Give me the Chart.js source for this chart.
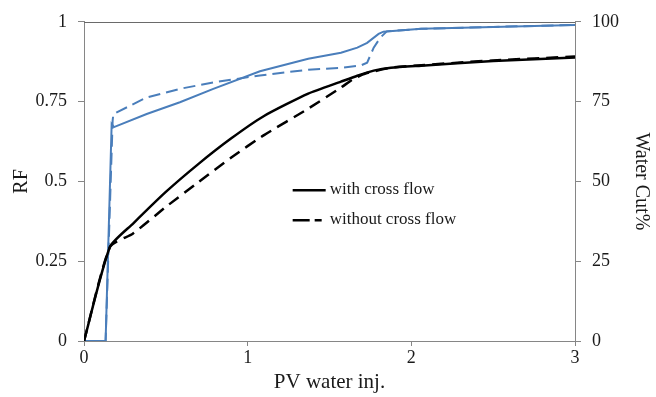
<!DOCTYPE html>
<html>
<head>
<meta charset="utf-8">
<script src="https://cdn.jsdelivr.net/npm/chart.js@4.4.1/dist/chart.umd.min.js"></script>
<style>
  html, body { margin: 0; padding: 0; background: #ffffff; }
  #wrap { width: 656px; height: 397px; position: relative; }
</style>
</head>
<body>
<div id="wrap"><canvas id="c" width="656" height="397"></canvas></div>
<script>
// ---- Data ----
const seriesLabels = ["with cross flow", "without cross flow"];

// RF, with cross flow (solid black)
const pvRFWith = [0, 0.159, 0.3, 0.5, 0.7, 0.9, 1.1, 1.37, 1.57, 1.67, 1.77, 1.875, 2.06, 2.5, 3.0];
const rfWith   = [0, 0.295, 0.368, 0.467, 0.555, 0.635, 0.705, 0.775, 0.8125, 0.831, 0.847, 0.856, 0.8625, 0.877, 0.888];

// RF, without cross flow (dashed black)
const pvRFWithout = [0, 0.159, 0.3, 0.5, 0.7, 0.9, 1.1, 1.37, 1.57, 1.65, 1.72, 1.875, 2.06, 2.5, 3.0];
const rfWithout   = [0, 0.295, 0.337, 0.42, 0.498, 0.575, 0.645, 0.728, 0.794, 0.822, 0.838, 0.856, 0.864, 0.879, 0.891];

// Water cut %, with cross flow (solid blue)
const pvWCWith = [0, 0.132, 0.169, 0.183, 0.383, 0.586, 0.79, 1.075, 1.37, 1.57, 1.67, 1.73, 1.80, 1.83, 2.06, 2.5, 3.0];
const wcWith   = [0, 0, 68, 67, 71.1, 74.8, 79, 84.5, 88.4, 90.3, 91.9, 93.4, 96.2, 96.9, 97.8, 98.4, 99];

// Water cut %, without cross flow (dashed blue)
const pvWCWithout = [0, 0.132, 0.175, 0.179, 0.383, 0.586, 0.79, 1.075, 1.37, 1.57, 1.69, 1.73, 1.77, 1.81, 1.85, 2.06, 2.5, 3.0];
const wcWithout   = [0, 0, 69, 71.1, 76.3, 79, 81, 83.2, 85, 85.6, 86.3, 87.2, 91.9, 95, 97, 97.8, 98.4, 99];

const xTicks  = [0, 1, 2, 3];
const rfTicks = [0, 0.25, 0.5, 0.75, 1];
const wcTicks = [0, 25, 50, 75, 100];

// ---- Styling ----
const BLUE = '#4a7ebb';
const BLACK = '#000000';
const AXIS = '#868686';
const TEXT = '#1a1a1a';
const SERIF = '"Liberation Serif", "Times New Roman", serif';

function pts(xs, ys) { return xs.map((x, i) => ({ x: x, y: ys[i] })); }
function plainLabel(v) { return String(v); }

const legendPlugin = {
  id: 'innerLegend',
  afterDatasetsDraw(chart) {
    const ctx = chart.ctx;
    const xs = chart.scales.x;
    const ys = chart.scales.y;
    const x0 = xs.getPixelForValue(1.275);
    const rows = [ys.getPixelForValue(0.472), ys.getPixelForValue(0.378)];
    ctx.save();
    ctx.strokeStyle = BLACK;
    ctx.lineWidth = 2.5;
    ctx.beginPath();
    ctx.setLineDash([]);
    ctx.moveTo(x0, rows[0]);
    ctx.lineTo(x0 + 33, rows[0]);
    ctx.stroke();
    ctx.beginPath();
    ctx.setLineDash([17, 5]);
    ctx.moveTo(x0, rows[1]);
    ctx.lineTo(x0 + 29, rows[1]);
    ctx.stroke();
    ctx.setLineDash([]);
    ctx.fillStyle = TEXT;
    ctx.font = '17px ' + SERIF;
    ctx.textAlign = 'left';
    ctx.textBaseline = 'middle';
    ctx.fillText(seriesLabels[0], x0 + 37, rows[0] - 1);
    ctx.fillText(seriesLabels[1], x0 + 37, rows[1] - 1);
    ctx.restore();
  }
};

const topBorderPlugin = {
  id: 'topBorder',
  afterDraw(chart) {
    const a = chart.chartArea;
    const ctx = chart.ctx;
    ctx.save();
    ctx.strokeStyle = '#6a6a6a';
    ctx.lineWidth = 1;
    ctx.beginPath();
    ctx.moveTo(a.left, Math.round(a.top) + 0.5);
    ctx.lineTo(a.right, Math.round(a.top) + 0.5);
    ctx.stroke();
    ctx.restore();
  }
};

const ctx = document.getElementById('c').getContext('2d');
new Chart(ctx, {
  type: 'line',
  data: {
    datasets: [
      {
        label: 'WC ' + seriesLabels[0], data: pts(pvWCWith, wcWith), yAxisID: 'y1',
        borderColor: BLUE, borderWidth: 2, pointRadius: 0, tension: 0, order: 4
      },
      {
        label: 'WC ' + seriesLabels[1], data: pts(pvWCWithout, wcWithout), yAxisID: 'y1',
        borderColor: BLUE, borderWidth: 2, borderDash: [12, 6], pointRadius: 0, tension: 0, order: 3
      },
      {
        label: 'RF ' + seriesLabels[1], data: pts(pvRFWithout, rfWithout), yAxisID: 'y',
        borderColor: BLACK, borderWidth: 2.5, borderDash: [12, 7], pointRadius: 0, tension: 0.2, order: 2
      },
      {
        label: 'RF ' + seriesLabels[0], data: pts(pvRFWith, rfWith), yAxisID: 'y',
        borderColor: BLACK, borderWidth: 2.5, pointRadius: 0, tension: 0.2, order: 1
      }
    ]
  },
  options: {
    responsive: false,
    animation: false,
    layout: { padding: { top: 21, left: 0, right: 0, bottom: 0 } },
    plugins: { legend: { display: false }, tooltip: { enabled: false } },
    scales: {
      x: {
        type: 'linear', min: 0, max: 3,
        afterBuildTicks(s) { s.ticks = xTicks.map(v => ({ value: v })); },
        afterFit(s) { s.height = 56; },
        grid: { display: true, drawOnChartArea: false, drawTicks: true, tickLength: 5, color: AXIS },
        border: { display: true, color: AXIS, width: 1 },
        ticks: { color: TEXT, font: { family: SERIF, size: 18 }, padding: 1, callback: plainLabel },
        title: { display: true, text: 'PV water inj.', color: TEXT, font: { family: SERIF, size: 21 }, padding: { top: 0, bottom: 2 } }
      },
      y: {
        type: 'linear', position: 'left', min: 0, max: 1,
        afterBuildTicks(s) { s.ticks = rfTicks.map(v => ({ value: v })); },
        afterFit(s) { s.width = 84; },
        grid: { display: true, drawOnChartArea: false, drawTicks: true, tickLength: 6, color: AXIS },
        border: { display: true, color: AXIS, width: 1 },
        ticks: { color: TEXT, font: { family: SERIF, size: 18 }, padding: 11, callback: plainLabel },
        title: { display: true, text: 'RF', color: TEXT, font: { family: SERIF, size: 20 }, padding: { top: 10, bottom: 0 } }
      },
      y1: {
        type: 'linear', position: 'right', min: 0, max: 100,
        afterBuildTicks(s) { s.ticks = wcTicks.map(v => ({ value: v })); },
        afterFit(s) { s.width = 81; },
        grid: { display: true, drawOnChartArea: false, drawTicks: true, tickLength: 6, color: AXIS },
        border: { display: true, color: AXIS, width: 1 },
        ticks: { color: TEXT, font: { family: SERIF, size: 18 }, padding: 11, callback: plainLabel },
        title: { display: true, text: 'Water Cut%', color: TEXT, font: { family: SERIF, size: 20 }, padding: { top: 3, bottom: 0 } }
      }
    }
  },
  plugins: [legendPlugin, topBorderPlugin]
});
</script>
</body>
</html>
